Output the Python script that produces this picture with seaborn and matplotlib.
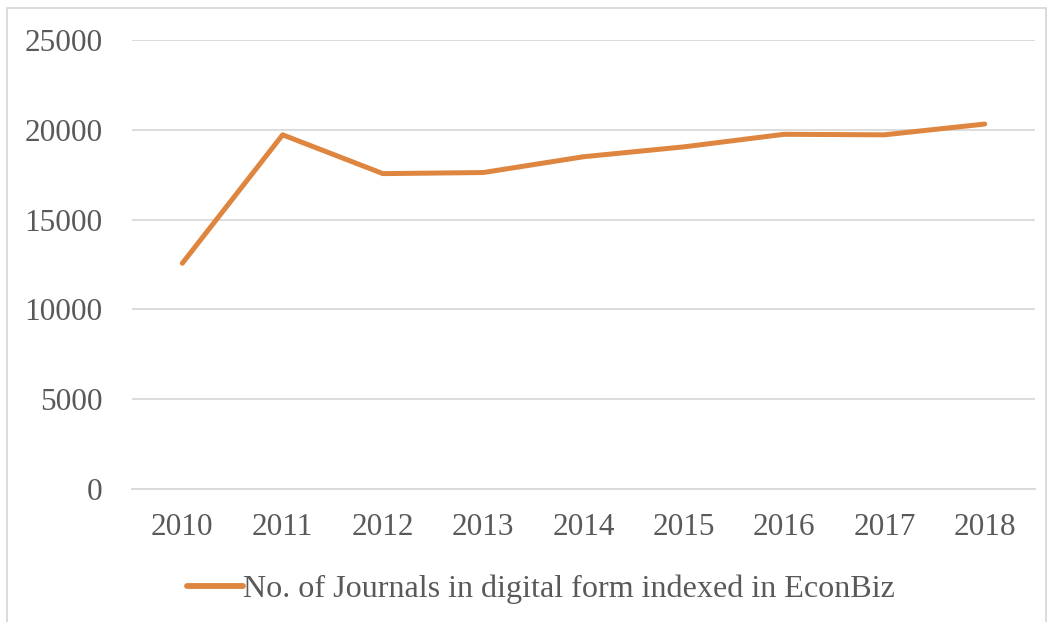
import matplotlib
matplotlib.use('Agg')
import matplotlib.pyplot as plt
import seaborn as sns
import pandas as pd
from matplotlib.patches import Rectangle

# Data
years = ['2010', '2011', '2012', '2013', '2014', '2015', '2016', '2017', '2018']
journals = [12570, 19720, 17560, 17620, 18500, 19050, 19750, 19720, 20320]
series_name = 'No. of Journals in digital form indexed in EconBiz'
y_ticks = [0, 5000, 10000, 15000, 20000, 25000]

df = pd.DataFrame({'year': years, 'journals': journals})

sns.set_theme(style='white')
plt.rcParams['font.family'] = ['Liberation Serif', 'DejaVu Serif']

text_grey = '#595959'
line_orange = '#DE8640'

fig = plt.figure(figsize=(10.52, 6.22), dpi=100)
ax = fig.add_axes([132.2 / 1052, 1 - 489 / 622, (1034.8 - 132.2) / 1052, (489 - 40) / 622])

sns.lineplot(data=df, x='year', y='journals', color=line_orange, linewidth=3.6,
             solid_capstyle='round', label=series_name, ax=ax, sort=False)

ax.set_xlim(-0.5, len(years) - 0.5)
ax.set_ylim(0, 25000)
ax.set_yticks(y_ticks)
ax.set_yticklabels([str(v) for v in y_ticks])
ax.yaxis.grid(True, color='#D9D9D9', linewidth=1.3)
ax.xaxis.grid(False)
ax.set_axisbelow(True)
for s in ax.spines.values():
    s.set_visible(False)
ax.spines['bottom'].set_visible(True)
ax.spines['bottom'].set_color('#D9D9D9')
ax.spines['bottom'].set_linewidth(1.3)
ax.tick_params(axis='y', length=0, pad=21.5, labelsize=22.5, labelcolor=text_grey)
ax.tick_params(axis='x', length=0, pad=17, labelsize=22.5, labelcolor=text_grey)
ax.set_xlabel('')
ax.set_ylabel('')

leg = ax.legend(loc='center', bbox_to_anchor=(541 / 1052, 1 - 589 / 622),
                bbox_transform=fig.transFigure, frameon=False, fontsize=23.1,
                handlelength=1.75, handletextpad=0.0, labelcolor=text_grey)
for h in leg.get_lines():
    h.set_linewidth(4.2)
    h.set_solid_capstyle('round')

# light frame around the chart area
fig.patches.append(Rectangle((7 / 1052, -0.05), (1046 - 7) / 1052, 1 - 8 / 622 + 0.05,
                             transform=fig.transFigure, fill=False,
                             edgecolor='#D9D9D9', linewidth=1.3))

fig.savefig('out.png', dpi=100)
